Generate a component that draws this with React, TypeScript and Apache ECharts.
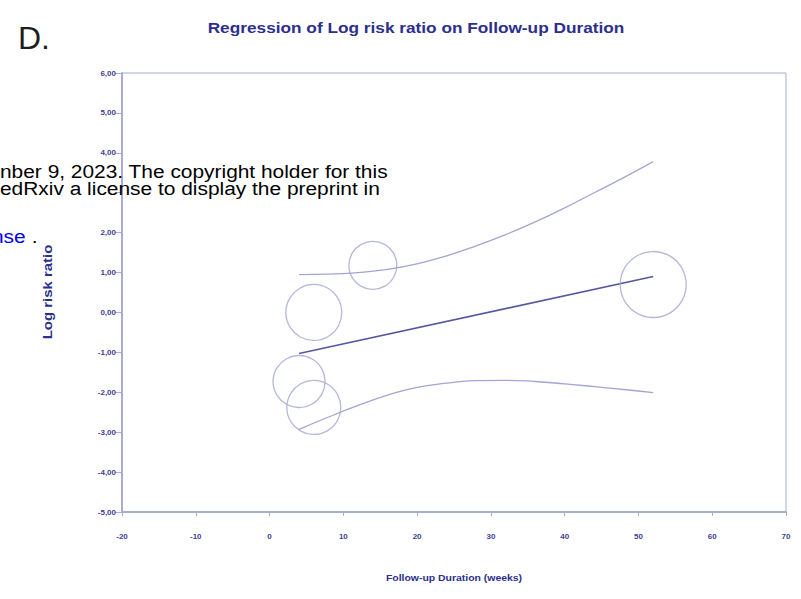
import React, { useEffect, useRef } from 'react';
import * as echarts from 'echarts';

// Study bubbles: follow-up duration (weeks), log risk ratio, weight (bubble diameter)
const studyDuration = [4, 6, 6, 14, 52];
const studyLogRR = [-1.73, -2.38, 0.0, 1.18, 0.7];
const studyWeight = [52, 54, 56, 48, 66];

// Fitted regression line
const fitX = [4, 52];
const fitY = [-1.03, 0.9];

// Upper confidence band
const upperX = [4, 8, 12, 16, 20, 24, 28, 32, 36, 40, 44, 48, 52];
const upperY = [0.95, 0.96, 1.0, 1.08, 1.22, 1.42, 1.67, 1.95, 2.27, 2.62, 3.0, 3.38, 3.78];

// Lower confidence band
const lowerX = [4, 8, 12, 16, 20, 24, 28, 32, 36, 40, 44, 48, 52];
const lowerY = [-2.93, -2.62, -2.33, -2.07, -1.88, -1.77, -1.71, -1.7, -1.73, -1.79, -1.86, -1.93, -2.01];

// Axis ticks
const xTickValues = [-20, -10, 0, 10, 20, 30, 40, 50, 60, 70];
const xTickLabels = ['-20', '-10', '0', '10', '20', '30', '40', '50', '60', '70'];
const yTickValues = [-5, -4, -3, -2, -1, 0, 1, 2, 3, 4, 5, 6];
const yTickLabels = ['-5,00', '-4,00', '-3,00', '-2,00', '-1,00', '0,00', '1,00', '2,00', '', '4,00', '5,00', '6,00'];

const titleText = 'Regression of Log risk ratio on Follow-up Duration';
const xAxisTitle = 'Follow-up Duration (weeks)';
const yAxisTitle = 'Log risk ratio';
const panelLetter = 'D.';
const noticeLine1 = 'nber 9, 2023. The copyright holder for this';
const noticeLine2 = 'edRxiv a license to display the preprint in';
const noticeLink = 'nse';
const noticeEnd = ' .';

const AXIS_COLOR = '#a9abd3';
const LABEL_COLOR = '#3f4196';
const FONT = '"Liberation Sans", Arial, sans-serif';

export default function App() {
  const ref = useRef<HTMLDivElement>(null);

  useEffect(() => {
    document.body.style.margin = '0';
    if (!ref.current) return;
    const chart = echarts.init(ref.current, null, { renderer: 'svg' });

    const pair = (xs: number[], ys: number[]) => xs.map((x, i) => [x, ys[i]]);
    const bubbles = studyDuration.map((x, i) => [x, studyLogRR[i], studyWeight[i]]);

    const xLabel = (v: number) => {
      const i = xTickValues.indexOf(Math.round(v));
      return i >= 0 ? xTickLabels[i] : '';
    };
    const yLabel = (v: number) => {
      const i = yTickValues.indexOf(Math.round(v));
      return i >= 0 ? yTickLabels[i] : '';
    };

    chart.setOption({
      animation: false,
      backgroundColor: '#ffffff',
      grid: {
        left: 122,
        right: 15,
        top: 73,
        bottom: 87,
        show: true,
        borderColor: AXIS_COLOR,
        borderWidth: 1,
      },
      xAxis: {
        type: 'value',
        min: -20,
        max: 70,
        interval: 10,
        splitLine: { show: false },
        axisLine: { show: true, onZero: false, lineStyle: { color: AXIS_COLOR, width: 2 } },
        axisTick: { show: true, length: 4, lineStyle: { color: AXIS_COLOR, width: 1 } },
        axisLabel: {
          show: true,
          margin: 20,
          showMinLabel: true,
          showMaxLabel: true,
          formatter: xLabel,
          color: LABEL_COLOR,
          fontSize: 8,
          fontWeight: 'bold',
          fontFamily: FONT,
        },
      },
      yAxis: {
        type: 'value',
        min: -5,
        max: 6,
        interval: 1,
        splitLine: { show: false },
        axisLine: { show: true, onZero: false, lineStyle: { color: AXIS_COLOR, width: 2 } },
        axisTick: { show: true, length: 7, lineStyle: { color: AXIS_COLOR, width: 1 } },
        axisLabel: {
          show: true,
          margin: 6,
          showMinLabel: true,
          showMaxLabel: true,
          formatter: yLabel,
          color: LABEL_COLOR,
          fontSize: 8,
          fontWeight: 'bold',
          fontFamily: FONT,
        },
      },
      series: [
        {
          type: 'line',
          data: pair(upperX, upperY),
          smooth: 0.5,
          showSymbol: false,
          lineStyle: { color: '#a3a5d2', width: 1.3 },
          z: 2,
        },
        {
          type: 'line',
          data: pair(lowerX, lowerY),
          smooth: 0.5,
          showSymbol: false,
          lineStyle: { color: '#a3a5d2', width: 1.3 },
          z: 2,
        },
        {
          type: 'line',
          data: pair(fitX, fitY),
          showSymbol: false,
          lineStyle: { color: '#56589f', width: 1.6 },
          z: 3,
        },
        {
          type: 'scatter',
          data: bubbles,
          symbol: 'circle',
          symbolSize: (v: number[]) => v[2],
          itemStyle: { color: 'rgba(0,0,0,0)', borderColor: '#a3a5d2', borderWidth: 1.3 },
          z: 4,
        },
      ],
      graphic: [
        {
          type: 'text',
          x: 18,
          y: 38,
          style: { text: panelLetter, font: `32px ${FONT}`, fill: '#1e1e1e', verticalAlign: 'middle', textAlign: 'left' },
        },
        {
          type: 'text',
          x: 416,
          y: 27,
          scaleX: 1.15,
          style: { text: titleText, font: `bold 15px ${FONT}`, fill: '#2c2f8c', textAlign: 'center', verticalAlign: 'middle' },
        },
        {
          type: 'text',
          x: 454,
          y: 578,
          scaleX: 1.1,
          style: { text: xAxisTitle, font: `bold 9.5px ${FONT}`, fill: '#2c2f8c', textAlign: 'center', verticalAlign: 'middle' },
        },
        {
          type: 'text',
          x: 47,
          y: 292,
          rotation: Math.PI / 2,
          scaleX: 1.15,
          style: { text: yAxisTitle, font: `bold 13px ${FONT}`, fill: '#2c2f8c', textAlign: 'center', verticalAlign: 'middle' },
        },
        {
          type: 'text',
          x: 0,
          y: 171,
          scaleX: 1.1,
          z: 100,
          style: { text: noticeLine1, font: `19px ${FONT}`, fill: '#000000', verticalAlign: 'middle', textAlign: 'left' },
        },
        {
          type: 'text',
          x: 0,
          y: 188,
          scaleX: 1.1,
          z: 100,
          style: { text: noticeLine2, font: `19px ${FONT}`, fill: '#000000', verticalAlign: 'middle', textAlign: 'left' },
        },
        {
          type: 'text',
          x: -8,
          y: 236,
          scaleX: 1.1,
          z: 100,
          style: { text: noticeLink, font: `19px ${FONT}`, fill: '#0000ee', verticalAlign: 'middle', textAlign: 'left' },
        },
        {
          type: 'text',
          x: 26,
          y: 236,
          scaleX: 1.1,
          z: 100,
          style: { text: noticeEnd, font: `19px ${FONT}`, fill: '#000000', verticalAlign: 'middle', textAlign: 'left' },
        },
      ],
    });

    return () => chart.dispose();
  }, []);

  return <div ref={ref} style={{ width: 801, height: 599 }} />;
}
